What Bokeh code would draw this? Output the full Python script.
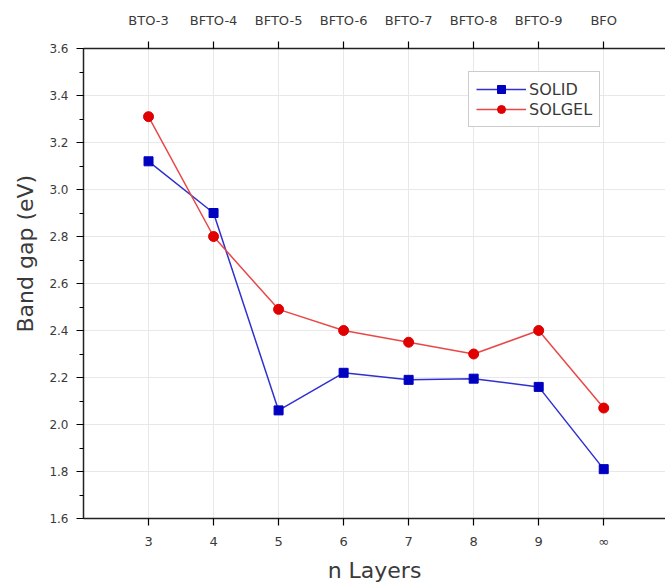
from bokeh.plotting import figure
from bokeh.models import (FixedTicker, LinearAxis, PrintfTickFormatter, Range1d,
                          Legend, LegendItem, Title)
from bokeh.embed import file_html
from bokeh.resources import INLINE

x_pos = [3, 4, 5, 6, 7, 8, 9, 10]
bottom_labels = ["3", "4", "5", "6", "7", "8", "9", "∞"]
top_labels = ["BTO-3", "BFTO-4", "BFTO-5", "BFTO-6", "BFTO-7", "BFTO-8", "BFTO-9", "BFO"]
solid = [3.12, 2.90, 2.06, 2.22, 2.19, 2.195, 2.16, 1.81]
solgel = [3.31, 2.80, 2.49, 2.40, 2.35, 2.30, 2.40, 2.07]
y_ticks = [1.6, 1.8, 2.0, 2.2, 2.4, 2.6, 2.8, 3.0, 3.2, 3.4, 3.6]

FONT = "DejaVu Sans"
TXT = "#3a3a3a"

p = figure(width=665, height=585, output_backend="svg", toolbar_location=None,
           x_range=Range1d(2, 10.95), y_range=Range1d(1.6, 3.6),
           min_border_left=83, min_border_right=0, min_border_top=48,
           min_border_bottom=67)
p.outline_line_color = None
p.background_fill_color = "white"
p.border_fill_color = "white"

# grids
p.xgrid.ticker = FixedTicker(ticks=x_pos)
p.ygrid.ticker = FixedTicker(ticks=y_ticks)
p.xgrid.grid_line_color = "#e8e8e8"
p.ygrid.grid_line_color = "#e8e8e8"

# bottom axis
xa = p.xaxis[0]
xa.ticker = FixedTicker(ticks=x_pos)
xa.major_label_overrides = {x: l for x, l in zip(x_pos, bottom_labels)}
xa.axis_label = "n Layers"
xa.axis_label_text_font = FONT
xa.axis_label_text_font_size = "22px"
xa.axis_label_text_font_style = "normal"
xa.axis_label_text_color = TXT
xa.axis_label_standoff = 6
xa.major_label_text_font = FONT
xa.major_label_text_font_size = "13px"
xa.major_label_text_color = TXT
xa.major_label_standoff = 8
xa.major_tick_out = 7
xa.major_tick_in = 0
xa.minor_tick_out = 0
xa.minor_tick_in = 0
xa.axis_line_width = 1.5
xa.major_tick_line_width = 1.2
xa.axis_line_color = "#222222"

# left axis
ya = p.yaxis[0]
ya.ticker = FixedTicker(ticks=y_ticks,
                        minor_ticks=[round(1.6 + 0.1 * i, 2) for i in range(21)])
ya.formatter = PrintfTickFormatter(format="%.1f")
ya.major_label_text_font = FONT
ya.major_label_text_font_size = "12px"
ya.major_label_text_color = TXT
ya.major_label_standoff = 8
ya.major_tick_out = 7
ya.major_tick_in = 0
ya.minor_tick_out = 4
ya.minor_tick_in = 0
ya.axis_line_width = 1.5
ya.major_tick_line_width = 1.2
ya.axis_line_color = "#222222"

# y axis title, slightly above centre like the original
ytitle = Title(text="Band gap (eV)", align="left", offset=186,
               text_font=FONT, text_font_size="22px", text_font_style="normal",
               text_color=TXT, standoff=18)
p.add_layout(ytitle, "left")

# top axis
ta = LinearAxis(ticker=FixedTicker(ticks=x_pos),
                major_label_overrides={x: l for x, l in zip(x_pos, top_labels)})
ta.major_label_text_font = FONT
ta.major_label_text_font_size = "13px"
ta.major_label_text_color = TXT
ta.major_label_standoff = 14
ta.major_tick_out = 7
ta.major_tick_in = 0
ta.minor_tick_out = 0
ta.minor_tick_in = 0
ta.axis_line_width = 1.5
ta.major_tick_line_width = 1.2
ta.axis_line_color = "#222222"
p.add_layout(ta, "above")

# series
l1 = p.line(x_pos, solid, line_color="#3030d0", line_width=1.5)
m1 = p.scatter(x_pos, solid, marker="square", size=9, fill_color="#0000c0",
               line_color="#0000c0")
l2 = p.line(x_pos, solgel, line_color="#e84848", line_width=1.5)
m2 = p.scatter(x_pos, solgel, marker="circle", size=10, fill_color="#e00000",
               line_color="#e00000")

legend = Legend(items=[LegendItem(label="SOLID", renderers=[l1, m1]),
                       LegendItem(label="SOLGEL", renderers=[l2, m2])],
                location=(385, 391))
legend.label_text_font = FONT
legend.label_text_font_size = "16px"
legend.label_text_color = TXT
legend.border_line_color = "#999999"
legend.border_line_width = 1
legend.glyph_width = 50
legend.glyph_height = 20
legend.label_height = 20
legend.label_standoff = 3
legend.padding = 7
legend.spacing = 0
legend.margin = 0
legend.background_fill_alpha = 1
p.add_layout(legend, "center")

open("out.html", "w").write(file_html(p, INLINE))
